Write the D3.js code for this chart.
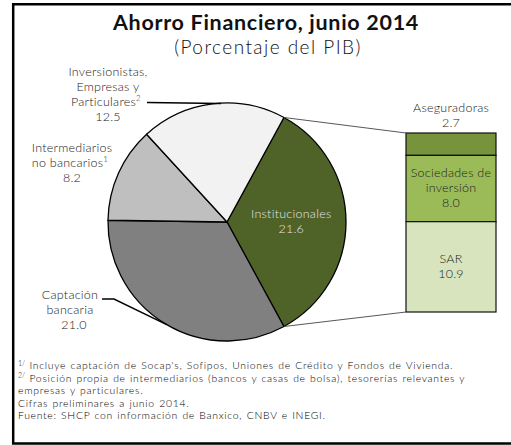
<!DOCTYPE html>
<html>
<head>
<meta charset="utf-8">
<script src="https://cdn.jsdelivr.net/npm/d3@7"></script>
<style>
  html, body { margin: 0; padding: 0; background: #fff; }
  svg { display: block; }
  text { font-family: Lato, "Open Sans", sans-serif; }
</style>
</head>
<body>
<svg id="chart" width="511" height="445"></svg>
<script>
// Ahorro financiero por componente (porcentaje del PIB)
const pieCategories = ["Institucionales", "Captación bancaria", "Intermediarios no bancarios", "Inversionistas, Empresas y Particulares"];
const pieValues = [21.6, 21.0, 8.2, 12.5];
const pieColors = ["#4f6228", "#808080", "#bfbfbf", "#f2f2f2"];

// Desglose de los institucionales
const barCategories = ["Aseguradoras", "Sociedades de inversión", "SAR"];
const barValues = [2.7, 8.0, 10.9];
const barColors = ["#77933c", "#9bbb59", "#d7e4bd"];

const footnotes = [
  {sup: "1/", text: " Incluye  captación de Socap's, Sofipos, Uniones de Crédito y Fondos de Vivienda."},
  {sup: "2/", text: " Posición propia de intermediarios  (bancos y casas de bolsa), tesorerías relevantes y"},
  {sup: "", text: "empresas y particulares."},
  {sup: "", text: "Cifras preliminares a junio 2014."},
  {sup: "", text: "Fuente: SHCP con información de Banxico, CNBV e INEGI."}
];

const svg = d3.select("#chart");
const fmt = d3.format(".1f");

// Marco
svg.append("path")
  .attr("d", "M 515 4.2 L 13.2 4.2 L 13.2 443.5 L 515 443.5")
  .attr("fill", "none").attr("stroke", "#000").attr("stroke-width", 2.5);

// Títulos
svg.append("text").attr("x", 266).attr("y", 30).attr("text-anchor", "middle")
  .attr("font-size", 21.5).attr("font-weight", 700).attr("letter-spacing", 0.7).attr("fill", "#111")
  .text("Ahorro Financiero, junio 2014");
svg.append("text").attr("x", 268).attr("y", 53.5).attr("text-anchor", "middle")
  .attr("font-size", 19).attr("font-weight", 300).attr("letter-spacing", 1.45).attr("fill", "#111")
  .text("(Porcentaje del PIB)");

// Pastel
const cx = 227, cy = 222, r = 119;
const total = d3.sum(pieValues);
const firstSpan = pieValues[0] / total * 2 * Math.PI;
const pie = d3.pie().sort(null)
  .startAngle(Math.PI / 2 - firstSpan / 2)
  .endAngle(Math.PI / 2 - firstSpan / 2 + 2 * Math.PI);
const arcs = pie(pieValues);
const arc = d3.arc().innerRadius(0).outerRadius(r);

const gPie = svg.append("g").attr("transform", `translate(${cx},${cy})`);
gPie.selectAll("path").data(arcs).join("path")
  .attr("d", arc)
  .attr("fill", (d, i) => pieColors[i])
  .attr("stroke", "#000").attr("stroke-width", 1.3).attr("stroke-linejoin", "round");

// Texto multilínea centrado
function multiLine(g, x, y, lines, step, color) {
  const t = g.append("text").attr("text-anchor", "middle").attr("font-size", 12.5)
    .attr("letter-spacing", 0.25).attr("fill", color).attr("font-weight", 300);
  lines.forEach((l, k) => t.append("tspan").attr("x", x).attr("y", y + k * step).text(l));
  return t;
}

// Etiqueta dentro del sector institucional
const inst = arcs[0];
const instC = d3.arc().innerRadius(0).outerRadius(r * 1.08).centroid(inst);
multiLine(gPie, instC[0], instC[1] - 4, ["Institucionales", fmt(pieValues[0])], 15, "#e4e4e4");

// Barra apilada
const barX = 406, barW = 90, barTop = 133;
const yScale = d3.scaleLinear().domain([0, d3.sum(barValues)]).range([0, 179]);
let acc = 0;
const stack = barValues.map((v, i) => { const s = { y0: acc, y1: acc + v, v, i }; acc += v; return s; });

svg.append("g").selectAll("rect").data(stack).join("rect")
  .attr("x", barX).attr("width", barW)
  .attr("y", d => barTop + yScale(d.y0))
  .attr("height", d => yScale(d.y1) - yScale(d.y0))
  .attr("fill", d => barColors[d.i])
  .attr("stroke", "#111").attr("stroke-width", 1.2);

// Líneas de conexión entre el sector y la barra
const pA = d3.pointRadial(inst.startAngle, r);
const pB = d3.pointRadial(inst.endAngle, r);
svg.append("line").attr("x1", cx + pA[0]).attr("y1", cy + pA[1])
  .attr("x2", barX).attr("y2", barTop)
  .attr("stroke", "#444").attr("stroke-width", 0.9);
svg.append("line").attr("x1", cx + pB[0]).attr("y1", cy + pB[1])
  .attr("x2", barX).attr("y2", barTop + yScale(d3.sum(barValues)))
  .attr("stroke", "#444").attr("stroke-width", 0.9);

// Etiquetas de la barra
const bx = barX + barW / 2;
multiLine(svg, bx, 112, [barCategories[0], fmt(barValues[0])], 15, "#222");
multiLine(svg, bx, 177, ["Sociedades de", "inversión", fmt(barValues[1])], 15, "#222");
multiLine(svg, bx, 263, [barCategories[2], fmt(barValues[2])], 15, "#222");

// Etiquetas externas del pastel
const lblColor = "#222";
const tInv = multiLine(svg, 108, 76, ["Inversionistas,", "Empresas y"], 15, lblColor);
tInv.append("tspan").attr("x", 106).attr("y", 106).text("Particulares");
tInv.append("tspan").attr("font-size", 8).attr("dy", -5).text("2");
tInv.append("tspan").attr("x", 108).attr("y", 121).text(fmt(pieValues[3]));

const tInt = multiLine(svg, 72, 152, ["Intermediarios"], 15, lblColor);
tInt.append("tspan").attr("x", 70).attr("y", 167).text("no bancarios");
tInt.append("tspan").attr("font-size", 8).attr("dy", -5).text("1");
tInt.append("tspan").attr("x", 72).attr("y", 182).text(fmt(pieValues[2]));

const tCap = multiLine(svg, 70, 299, ["Captación", "bancaria"], 15, lblColor);
tCap.append("tspan").attr("x", 74).attr("y", 329).text(fmt(pieValues[1]));

// Líneas guía
const pInv = d3.pointRadial(2 * Math.PI, r);
svg.append("polyline")
  .attr("points", `147,102.5 ${cx + pInv[0] - 6},${cy + pInv[1] + 0.5}`)
  .attr("fill", "none").attr("stroke", "#000").attr("stroke-width", 1.4);
const capAngle = arcs[1].startAngle + 1.03;
const pCap = d3.pointRadial(capAngle, r);
svg.append("polyline")
  .attr("points", `102,299 114,299 ${cx + pCap[0]},${cy + pCap[1]}`)
  .attr("fill", "none").attr("stroke", "#000").attr("stroke-width", 1.4);

// Notas al pie
footnotes.forEach((f, k) => {
  const t = svg.append("text").attr("x", 18).attr("y", 369 + k * 12.5)
    .attr("font-size", 10.4).attr("font-weight", 300).attr("letter-spacing", 0.72)
    .attr("word-spacing", 0.8).attr("fill", "#000");
  if (f.sup) t.append("tspan").attr("font-size", 7).attr("letter-spacing", 0).attr("dy", -3.5).text(f.sup);
  t.append("tspan").attr("dy", f.sup ? 3.5 : 0).text(f.text);
});
</script>
</body>
</html>
